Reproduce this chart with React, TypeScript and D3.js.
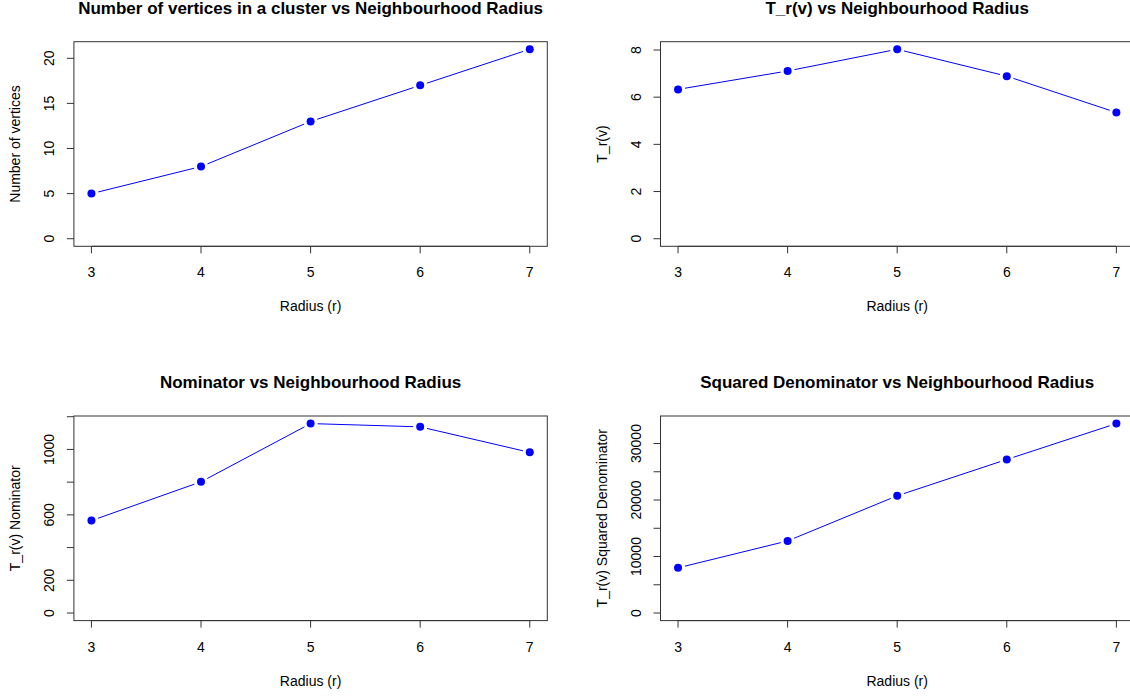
import React from 'react';
import * as d3 from 'd3';

const W = 1130;
const H = 697;

const radius = [3, 4, 5, 6, 7];
const vertices = [5, 8, 13, 17, 21];
const trv = [6.33, 7.11, 8.03, 6.89, 5.35];
const nominator = [565, 802, 1158, 1138, 982];
const sqDenominator = [7994, 12759, 20753, 27176, 33529];

const xTicks = [3, 4, 5, 6, 7];
const ticks1 = [0, 5, 10, 15, 20];
const ticks2 = [0, 2, 4, 6, 8];
const ticks3 = [0, 200, 400, 600, 800, 1000, 1200];
const labels3 = [0, 200, 600, 1000];
const ticks4 = [0, 5000, 10000, 15000, 20000, 25000, 30000];
const labels4 = [0, 10000, 20000, 30000];

const titles = [
  'Number of vertices in a cluster vs Neighbourhood Radius',
  'T_r(v) vs Neighbourhood Radius',
  'Nominator vs Neighbourhood Radius',
  'Squared Denominator vs Neighbourhood Radius',
];
const yTitles = ['Number of vertices', 'T_r(v)', 'T_r(v) Nominator', 'T_r(v) Squared Denominator'];
const xTitle = 'Radius (r)';

// box geometry (R's mfrow = c(2,2), image cropped)
const colLeft = [73.9, 660.5];
const rowTop = [41.7, 416];
const boxW = 473.4;
const boxH = 204.6;
const gap = 7;
const font = 'Liberation Sans, Arial, Helvetica, sans-serif';

const panels = [
  { values: vertices, ticks: ticks1, labels: ticks1 },
  { values: trv, ticks: ticks2, labels: ticks2 },
  { values: nominator, ticks: ticks3, labels: labels3 },
  { values: sqDenominator, ticks: ticks4, labels: labels4 },
];

function Panel({ i }: { i: number }) {
  const p = panels[i];
  const left = colLeft[i % 2];
  const top = rowTop[Math.floor(i / 2)];
  const bottom = top + boxH;
  const right = left + boxW;

  // R style: 4% extension on each side
  const xExt = (d3.max(radius)! - d3.min(radius)!) * 0.04;
  const x = d3.scaleLinear()
    .domain([d3.min(radius)! - xExt, d3.max(radius)! + xExt])
    .range([left, right]);
  const yMax = d3.max(p.values)!;
  const y = d3.scaleLinear()
    .domain([-yMax * 0.04, yMax * 1.04])
    .range([bottom, top]);

  const pts = radius.map((r, k) => [x(r), y(p.values[k])]);
  const segs = pts.slice(1).map((b, k) => {
    const a = pts[k];
    const dx = b[0] - a[0], dy = b[1] - a[1];
    const len = Math.sqrt(dx * dx + dy * dy);
    const ux = dx / len, uy = dy / len;
    return [a[0] + ux * gap, a[1] + uy * gap, b[0] - ux * gap, b[1] - uy * gap];
  });

  const cx = (left + right) / 2;
  const cy = (top + bottom) / 2;

  return (
    <g>
      <text x={cx} y={top - 28} textAnchor="middle" fontSize={17} fontWeight="bold" fontFamily={font}>
        {titles[i]}
      </text>
      <rect x={left} y={top} width={boxW} height={boxH} fill="none" stroke="#333" strokeWidth={1} />

      {/* x axis */}
      <line x1={x(xTicks[0])} x2={x(xTicks[xTicks.length - 1])} y1={bottom} y2={bottom} stroke="#333" />
      {xTicks.map(t => (
        <g key={'x' + t}>
          <line x1={x(t)} x2={x(t)} y1={bottom} y2={bottom + 7} stroke="#333" />
          <text x={x(t)} y={bottom + 31} textAnchor="middle" fontSize={14} fontFamily={font}>{t}</text>
        </g>
      ))}
      <text x={cx} y={bottom + 65} textAnchor="middle" fontSize={14} fontFamily={font}>{xTitle}</text>

      {/* y axis */}
      {p.ticks.map(t => (
        <line key={'y' + t} x1={left - 7} x2={left} y1={y(t)} y2={y(t)} stroke="#333" />
      ))}
      <line x1={left - 7} x2={left - 7} y1={y(p.ticks[0])} y2={y(p.ticks[p.ticks.length - 1])} stroke="none" />
      {p.labels.map(t => (
        <text key={'yl' + t} transform={`translate(${left - 20},${y(t)}) rotate(-90)`} textAnchor="middle" fontSize={14} fontFamily={font}>
          {t}
        </text>
      ))}
      <text transform={`translate(${left - 54},${cy}) rotate(-90)`} textAnchor="middle" fontSize={14} fontFamily={font}>
        {yTitles[i]}
      </text>

      {/* series, type = "b" */}
      {segs.map((s, k) => (
        <line key={'s' + k} x1={s[0]} y1={s[1]} x2={s[2]} y2={s[3]} stroke="#0000ff" strokeWidth={1} />
      ))}
      {pts.map((pt, k) => (
        <circle key={'p' + k} cx={pt[0]} cy={pt[1]} r={4} fill="#0000ff" />
      ))}
    </g>
  );
}

export default function App() {
  return (
    <svg width={W} height={H} style={{ position: 'absolute', left: 0, top: 0, background: '#fff' }}>
      <rect width={W} height={H} fill="#fff" />
      {[0, 1, 2, 3].map(i => <Panel key={i} i={i} />)}
    </svg>
  );
}
